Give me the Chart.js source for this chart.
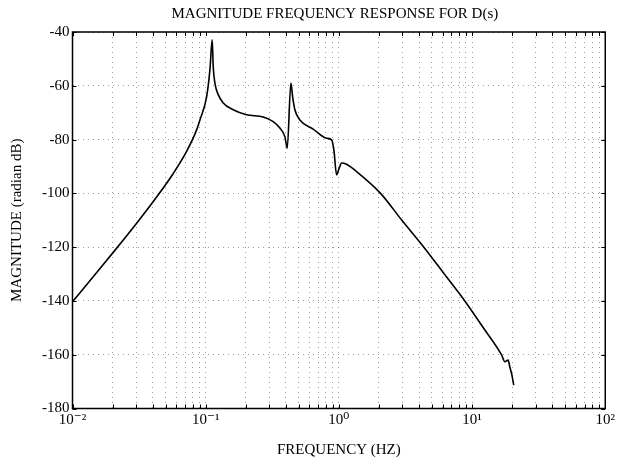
<!DOCTYPE html>
<html>
<head>
<meta charset="utf-8">
<script src="https://cdn.jsdelivr.net/npm/chart.js@4/dist/chart.umd.min.js"></script>
<style>
    html, body { margin: 0; padding: 0; background: #fff; }
    #wrap { width: 618px; height: 462px; position: relative; }
</style>
</head>
<body>
<div id="wrap"><canvas id="bode"></canvas></div>
<script>
    const chartTitle = 'MAGNITUDE FREQUENCY RESPONSE FOR D(s)';
    const xTitle = 'FREQUENCY (HZ)';
    const yTitle = 'MAGNITUDE (radian dB)';

    // frequency (Hz) and magnitude (dB)
    const freqHz = [0.01, 0.0143, 0.0208, 0.0303, 0.0416, 0.0571, 0.0719, 0.0855, 0.0905, 0.1017, 0.1076, 0.1119,
        0.1139, 0.1173, 0.1242, 0.1354, 0.1609, 0.2029, 0.2703, 0.3212, 0.3607, 0.3932, 0.4093,
        0.4363, 0.4493, 0.4674, 0.5095, 0.6413, 0.8084, 0.8815, 0.9173, 0.961,
        1.0053, 1.048, 1.142, 1.358, 2.056, 2.971, 4.345, 6.19, 8.823, 12.15, 16.63,
        17.62, 18.65, 19.2, 19.78, 20.57];
    const magDb = [-140.3, -131, -121.2, -111.1, -102.2, -92.6, -84.4, -76.4, -72.7, -64, -54, -42.9,
        -52.8, -59, -63.3, -66.4, -68.9, -70.8, -71.6, -73.3, -75.7, -78.9, -83.2,
        -59, -64, -68.9, -72.7, -76.1, -79.5, -80.1, -83.8, -93.1,
        -90.6, -88.7, -89.2, -91.9, -100, -110, -120, -130, -140, -150, -160,
        -162.6, -162, -164.5, -166.9, -171.3];

    // axis ticks
    const xDecades = [0.01, 0.1, 1, 10, 100];
    const xTickLabels = ['10⁻²', '10⁻¹', '10⁰', '10¹', '10²'];
    const yTicks = [-40, -60, -80, -100, -120, -140, -160, -180];

    const serif = '"Liberation Serif", "DejaVu Serif", serif';
    const gridColor = 'rgba(0,0,0,0.38)';

    const frameAndTicks = {
        id: 'frameAndTicks',
        afterDraw(chart) {
            const { ctx, chartArea: a, scales } = chart;
            ctx.save();
            ctx.strokeStyle = '#000';
            ctx.lineWidth = 1;
            ctx.beginPath();
            scales.x.ticks.forEach((t) => {
                const x = Math.round(scales.x.getPixelForValue(t.value)) + 0.5;
                ctx.moveTo(x, a.bottom); ctx.lineTo(x, a.bottom - 4);
                ctx.moveTo(x, a.top); ctx.lineTo(x, a.top + 4);
            });
            scales.y.ticks.forEach((t) => {
                const y = Math.round(scales.y.getPixelForValue(t.value)) + 0.5;
                ctx.moveTo(a.left, y); ctx.lineTo(a.left + 4, y);
                ctx.moveTo(a.right, y); ctx.lineTo(a.right - 4, y);
            });
            ctx.stroke();
            ctx.lineWidth = 1.5;
            ctx.strokeRect(a.left, a.top, a.right - a.left, a.bottom - a.top);
            ctx.fillStyle = '#000';
            ctx.font = '15px ' + serif;
            ctx.textAlign = 'center';
            ctx.textBaseline = 'middle';
            ctx.fillText(chartTitle, (a.left + a.right) / 2 - 4, 14);
            ctx.restore();
        },
    };

    new Chart(document.getElementById('bode'), {
        type: 'scatter',
        data: {
            datasets: [{
                data: freqHz.map((f, i) => ({ x: f, y: magDb[i] })),
                showLine: true,
                borderColor: '#000',
                borderWidth: 1.6,
                pointRadius: 0,
                cubicInterpolationMode: 'monotone',
            }],
        },
        options: {
            responsive: true,
            maintainAspectRatio: false,
            animation: false,
            layout: { padding: { top: 32, right: 12, left: 0, bottom: 0 } },
            plugins: { legend: { display: false }, tooltip: { enabled: false } },
            scales: {
                x: {
                    type: 'logarithmic',
                    min: 0.01,
                    max: 100,
                    afterBuildTicks(scale) {
                        const ticks = [];
                        xDecades.forEach((d, i) => {
                            if (i === xDecades.length - 1) { ticks.push({ value: d }); return; }
                            for (let k = 1; k < 10; k++) ticks.push({ value: d * k });
                        });
                        scale.ticks = ticks;
                    },
                    afterFit(scale) { scale.height = 53.5; },
                    grid: { color: gridColor, lineWidth: 1, drawTicks: false },
                    border: { display: false, dash: [1, 4] },
                    ticks: {
                        autoSkip: false,
                        maxRotation: 0,
                        padding: 3,
                        color: '#000',
                        font: { family: serif, size: 15 },
                        callback: (value) => {
                            const i = xDecades.findIndex((d) => Math.abs(d - value) / d < 1e-6);
                            return i >= 0 ? xTickLabels[i] : '';
                        },
                    },
                    title: { display: true, text: xTitle, color: '#000', font: { family: serif, size: 15 }, padding: { top: 4, bottom: 3 } },
                },
                y: {
                    min: -180,
                    max: -40,
                    afterBuildTicks(scale) { scale.ticks = yTicks.map((v) => ({ value: v })); },
                    afterFit(scale) { scale.width = 72.5; },
                    grid: { color: gridColor, lineWidth: 1, drawTicks: false },
                    border: { display: false, dash: [1, 4] },
                    ticks: { padding: 3, color: '#000', font: { family: serif, size: 15 } },
                    title: { display: true, text: yTitle, color: '#000', font: { family: serif, size: 15 }, padding: { top: 8, bottom: 0 } },
                },
            },
        },
        plugins: [frameAndTicks],
    });
</script>
</body>
</html>
